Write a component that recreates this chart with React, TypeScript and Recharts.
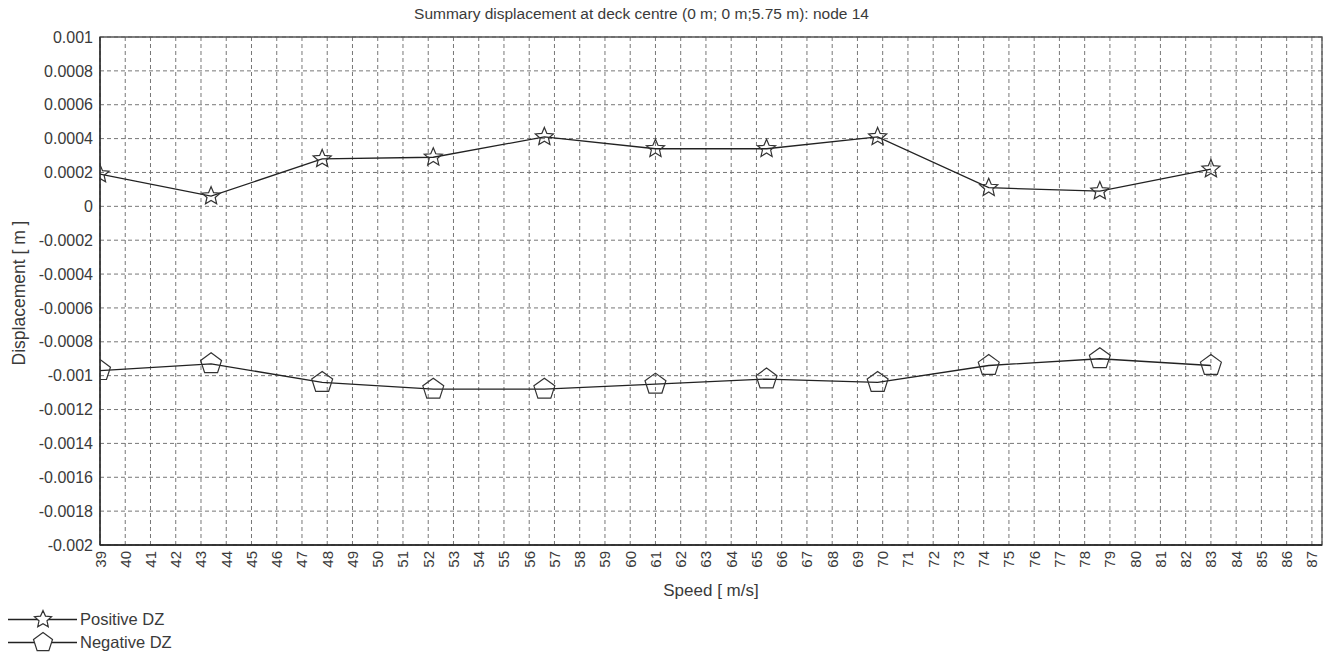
import {
  LineChart,
  Line,
  XAxis,
  YAxis,
  CartesianGrid,
  ReferenceArea,
  Legend,
} from 'recharts';

// speed [m/s] at each analysed run
const speeds = [39, 43.4, 47.8, 52.2, 56.6, 61, 65.4, 69.8, 74.2, 78.6, 83];
const positiveDz = [
  0.00019, 0.00006, 0.00028, 0.00029, 0.00041, 0.00034, 0.00034, 0.00041, 0.00011, 0.00009, 0.00022,
];
const negativeDz = [
  -0.00097, -0.00093, -0.00104, -0.00108, -0.00108, -0.00105, -0.00102, -0.00104, -0.00094, -0.0009,
  -0.00094,
];

const xTicks = [
  39, 40, 41, 42, 43, 44, 45, 46, 47, 48, 49, 50, 51, 52, 53, 54, 55, 56, 57, 58, 59, 60, 61, 62, 63,
  64, 65, 66, 67, 68, 69, 70, 71, 72, 73, 74, 75, 76, 77, 78, 79, 80, 81, 82, 83, 84, 85, 86, 87,
];
const yTicks = [
  0.001, 0.0008, 0.0006, 0.0004, 0.0002, 0, -0.0002, -0.0004, -0.0006, -0.0008, -0.001, -0.0012,
  -0.0014, -0.0016, -0.0018, -0.002,
];

const data = speeds.map((speed, i) => ({
  speed,
  pos: positiveDz[i],
  neg: negativeDz[i],
}));

const FONT = '"Liberation Sans", Arial, sans-serif';
const TEXT = '#3a3a3a';

const starPoints = (cx: number, cy: number, ro: number, ri: number) => {
  const pts: string[] = [];
  for (let i = 0; i < 10; i++) {
    const a = ((-90 + i * 36) * Math.PI) / 180;
    const r = i % 2 === 0 ? ro : ri;
    pts.push(`${cx + r * Math.cos(a)},${cy + r * Math.sin(a)}`);
  }
  return pts.join(' ');
};

const pentagonPoints = (cx: number, cy: number, r: number) => {
  const pts: string[] = [];
  for (let i = 0; i < 5; i++) {
    const a = ((-90 + i * 72) * Math.PI) / 180;
    pts.push(`${cx + r * Math.cos(a)},${cy + r * Math.sin(a)}`);
  }
  return pts.join(' ');
};

const StarDot = (props: any) => {
  const { cx, cy, index } = props;
  return (
    <polygon
      key={`s${index}`}
      points={starPoints(cx, cy, 9.5, 4.3)}
      fill="none"
      stroke="#333"
      strokeWidth={1.2}
    />
  );
};

const PentaDot = (props: any) => {
  const { cx, cy, index } = props;
  return (
    <polygon
      key={`p${index}`}
      points={pentagonPoints(cx, cy, 11)}
      fill="none"
      stroke="#333"
      strokeWidth={1.2}
    />
  );
};

const XTick = (props: any) => {
  const { x, y, payload } = props;
  return (
    <text
      x={x}
      y={y}
      transform={`rotate(-90, ${x}, ${y})`}
      textAnchor="end"
      dominantBaseline="central"
      fontSize={15}
      fontFamily={FONT}
      fill={TEXT}
    >
      {payload.value}
    </text>
  );
};

const fmtY = (v: number) => String(parseFloat(v.toFixed(4)));

const YLabel = (props: any) => {
  const vb = props.viewBox || { y: 37, height: 508 };
  const cy = vb.y + vb.height / 2 + 2;
  return (
    <text
      x={19}
      y={cy}
      transform={`rotate(-90, 19, ${cy})`}
      textAnchor="middle"
      dominantBaseline="central"
      fontSize={17.5}
      fontFamily={FONT}
      fill={TEXT}
    >
      Displacement [ m ]
    </text>
  );
};

const LegendBox = () => {
  const rows = [
    { name: 'Positive DZ', kind: 'star' },
    { name: 'Negative DZ', kind: 'penta' },
  ];
  return (
    <div style={{ fontFamily: FONT, fontSize: 16.5, color: TEXT }}>
      {rows.map((r) => (
        <div key={r.name} style={{ display: 'flex', alignItems: 'center', height: 23 }}>
          <svg width={72} height={23} style={{ marginLeft: 8 }}>
            <line x1={0} y1={11.5} x2={69} y2={11.5} stroke="#222" strokeWidth={1.3} />
            {r.kind === 'star' ? (
              <polygon points={starPoints(35, 11.5, 9, 4.2)} fill="#fff" stroke="#333" strokeWidth={1.2} />
            ) : (
              <polygon points={pentagonPoints(35, 11.5, 10)} fill="#fff" stroke="#333" strokeWidth={1.2} />
            )}
          </svg>
          <span>{r.name}</span>
        </div>
      ))}
    </div>
  );
};

const App = () => {
  return (
    <div style={{ position: 'absolute', left: 0, top: 0, width: 1333, height: 658, background: '#fff' }}>
      <div
        style={{
          position: 'absolute',
          left: 0,
          top: 5,
          width: 1283,
          textAlign: 'center',
          fontFamily: FONT,
          fontSize: 15.5,
          color: TEXT,
        }}
      >
        Summary displacement at deck centre (0 m; 0 m;5.75 m): node 14
      </div>
      <LineChart
        width={1333}
        height={658}
        data={data}
        margin={{ top: 37, right: 11, bottom: 73, left: 0 }}
      >
        <CartesianGrid stroke="#777" strokeDasharray="4 3" />
        <XAxis
          dataKey="speed"
          type="number"
          domain={[39, 87.4]}
          ticks={xTicks}
          interval={0}
          allowDataOverflow
          height={40}
          tickSize={0}
          tickMargin={6}
          tickLine={false}
          tick={<XTick />}
          axisLine={{ stroke: '#222', strokeWidth: 1.3 }}
          label={{
            value: 'Speed [ m/s]',
            position: 'insideBottom',
            offset: -11,
            style: { fontFamily: FONT, fontSize: 17, fill: TEXT },
          }}
        />
        <YAxis
          type="number"
          domain={[-0.002, 0.001]}
          ticks={yTicks}
          interval={0}
          allowDataOverflow
          width={100}
          tickSize={0}
          tickMargin={7}
          tickLine={false}
          tickFormatter={fmtY}
          tick={{ fontFamily: FONT, fontSize: 16, fill: TEXT }}
          axisLine={{ stroke: '#222', strokeWidth: 1.3 }}
          label={<YLabel />}
        />
        <ReferenceArea
          x1={39}
          x2={87.4}
          y1={-0.002}
          y2={0.001}
          fill="none"
          stroke="#555"
          strokeWidth={1.3}
          ifOverflow="visible"
        />
        <Legend
          layout="horizontal"
          verticalAlign="middle"
          align="center"
          wrapperStyle={{ left: 0, top: 608, width: 220 }}
          content={<LegendBox />}
        />
        <Line
          type="linear"
          dataKey="pos"
          name="Positive DZ"
          stroke="#222"
          strokeWidth={1.3}
          dot={<StarDot />}
          activeDot={false}
          isAnimationActive={false}
        />
        <Line
          type="linear"
          dataKey="neg"
          name="Negative DZ"
          stroke="#222"
          strokeWidth={1.3}
          dot={<PentaDot />}
          activeDot={false}
          isAnimationActive={false}
        />
      </LineChart>
    </div>
  );
};

export default App;
